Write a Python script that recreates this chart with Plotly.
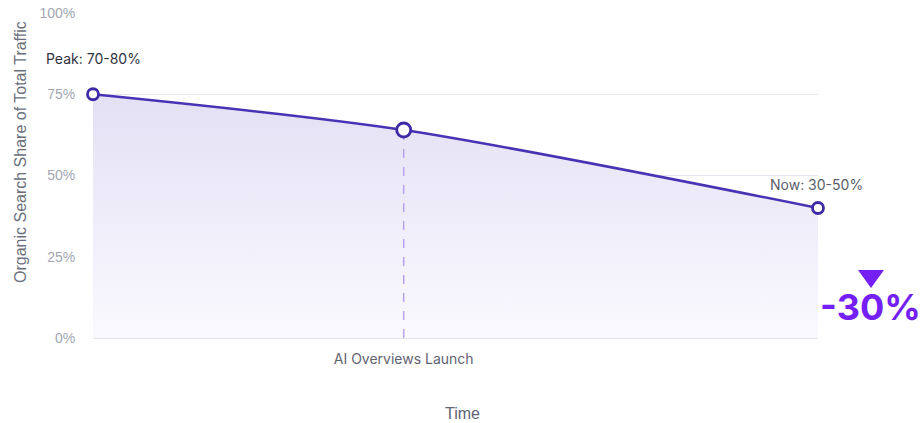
import plotly.graph_objects as go

time_pos = [0, 3, 7]
share = [75, 64, 40]
tick_labels = ["AI Overviews Launch"]
launch_idx = 1
marker_sizes = [11, 14, 11]

LINE = "#4a32b4"
MARK = "#3f2aa6"
ACCENT = "#7420f5"
FONT = "Inter, Roboto, sans-serif"
SANS = "Liberation Sans, Arial, sans-serif"

W, H = 924, 423
L, R, T, B = 93, 106, 13, 85
PW, PH = W - L - R, H - T - B


def px(x):  # figure pixel -> paper x
    return (x - L) / PW


def py(y):  # figure pixel -> paper y
    return (H - B - y) / PH


fig = go.Figure()

fig.add_trace(go.Scatter(
    x=time_pos, y=share, mode="lines", line=dict(color=LINE, width=2.5, shape="spline", smoothing=0.8),
    fill="tozeroy",
    fillgradient=dict(type="vertical", colorscale=[[0, "rgba(250,249,254,1)"], [1, "rgba(228,224,245,1)"]]),
    hoverinfo="skip", showlegend=False, cliponaxis=False))

fig.add_trace(go.Scatter(
    x=[time_pos[launch_idx], time_pos[launch_idx]], y=[0, share[launch_idx]], mode="lines",
    line=dict(color="#b9a2f2", width=1.5, dash="dash"), showlegend=False, hoverinfo="skip"))

fig.add_trace(go.Scatter(
    x=time_pos, y=share, mode="markers", cliponaxis=False,
    marker=dict(size=marker_sizes, color="white", opacity=1, line=dict(color=MARK, width=2.8)),
    showlegend=False))

fig.add_annotation(x=time_pos[0], y=share[0], text="Peak: 70-80%", showarrow=False,
                   yshift=36, xanchor="center", yanchor="middle", font=dict(size=14, color="#2f3340", family=FONT))
fig.add_annotation(x=time_pos[2], y=share[2], text="Now: 30-50%", showarrow=False,
                   yshift=24, xshift=-2, xanchor="center", yanchor="middle",
                   font=dict(size=14, color="#5a5e6a", family=FONT))
# downward marker above the change label
fig.add_shape(type="path", xref="paper", yref="paper",
              path=f"M {px(858)},{py(270)} L {px(884)},{py(270)} L {px(871)},{py(288)} Z",
              fillcolor=ACCENT, line=dict(width=0))
fig.add_annotation(xref="paper", yref="paper", x=px(870), y=py(307), text="<b>-30%</b>", showarrow=False,
                   xanchor="center", yanchor="middle",
                   font=dict(size=36, color=ACCENT, family=FONT))
fig.add_annotation(xref="paper", yref="paper", x=px(20), y=py(152), text="Organic Search Share of Total Traffic",
                   textangle=-90, showarrow=False, xanchor="center", yanchor="middle",
                   font=dict(size=16, color="#6b6f7d", family=SANS))
fig.add_annotation(xref="paper", yref="paper", x=px(462), y=py(413), text="Time", showarrow=False,
                   xanchor="center", yanchor="middle",
                   font=dict(size=16, color="#5f6372", family=SANS))

fig.update_layout(
    width=W, height=H,
    margin=dict(l=L, r=R, t=T, b=B, autoexpand=False),
    paper_bgcolor="white", plot_bgcolor="white",
    font=dict(family=FONT),
    hovermode=False,
    xaxis=dict(range=[0, 7], tickmode="array", tickvals=[time_pos[launch_idx]], ticktext=tick_labels,
               showgrid=False, zeroline=False, showline=False, automargin=False,
               tickfont=dict(size=14, color="#5f6372"), ticks="outside", ticklen=8, tickcolor="rgba(0,0,0,0)"),
    yaxis=dict(range=[0, 100], tickvals=[0, 25, 50, 75, 100], ticktext=["0%", "25%", "50%", "75%", "100%"],
               showgrid=True, gridcolor="#e6e6ee", gridwidth=1, zeroline=True, zerolinecolor="#e3e3ea",
               automargin=False, ticklabeloverflow="allow",
               tickfont=dict(size=14, color="#a3a7b3", family=SANS),
               ticks="outside", ticklen=14, tickcolor="rgba(0,0,0,0)"),
)

fig.write_html("out.html", config={"displayModeBar": False, "staticPlot": True},
               post_script="document.body.style.margin='0';document.body.style.overflow='hidden';")
